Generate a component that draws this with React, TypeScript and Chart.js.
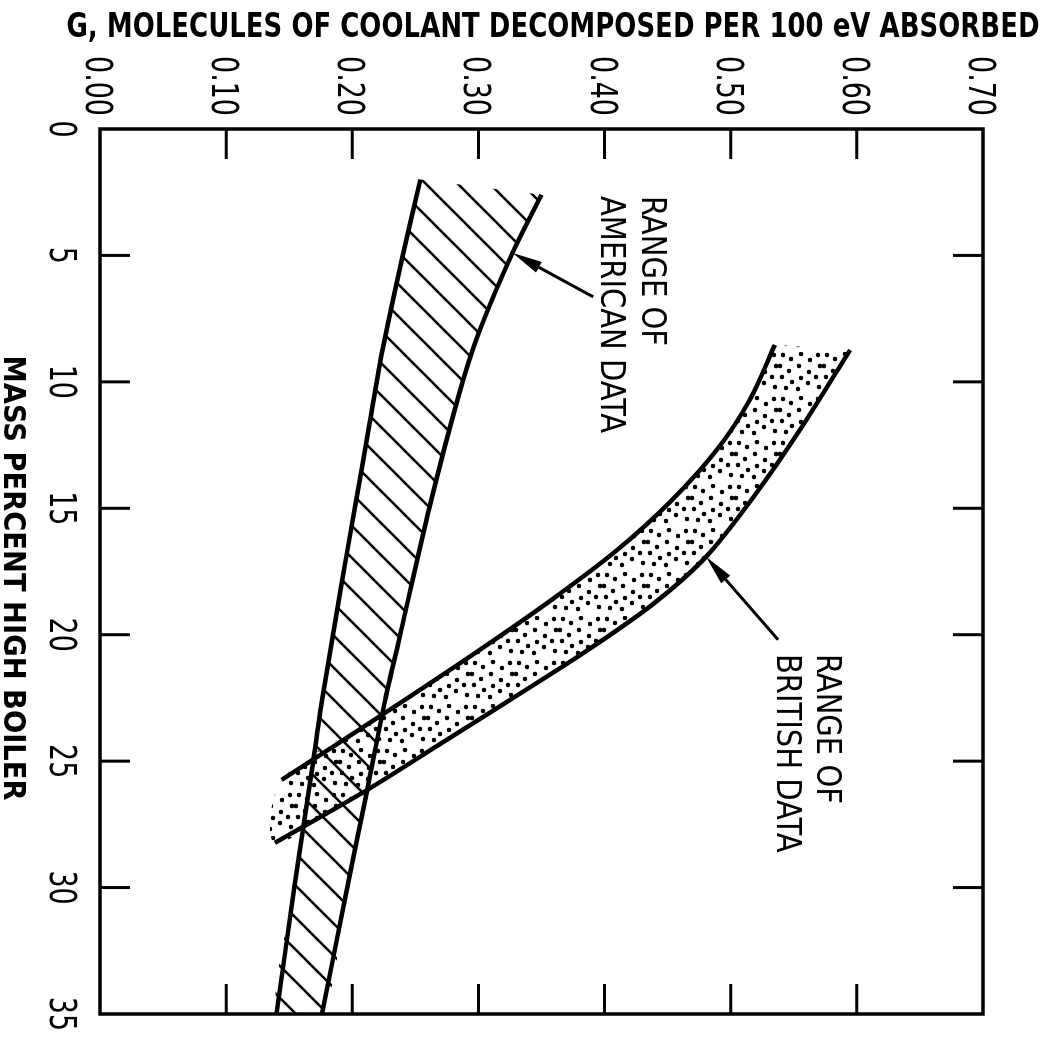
import React, { useEffect, useRef } from "react";
import { Chart, registerables } from "chart.js";

Chart.register(...registerables);

// ---- data (x = mass percent high boiler, y = G value) ----
const americanUpperX = [2.6, 4.9, 8.1, 10.6, 15, 20, 22.6, 26.1, 30, 35];
const americanUpperG = [0.35, 0.327, 0.3, 0.284, 0.261, 0.238, 0.226, 0.212, 0.196, 0.176];
const americanLowerX = [2.0, 5, 8.74, 12, 15, 18, 22.6, 25, 30, 35];
const americanLowerG = [0.254, 0.24, 0.224, 0.2125, 0.202, 0.1915, 0.176, 0.169, 0.154, 0.14];

const britishUpperX = [8.74, 11.9, 14.47, 16.92, 18.82, 20.68, 22.58, 24.4, 26.14, 28.23];
const britishUpperG = [0.5946, 0.5549, 0.5193, 0.4804, 0.4376, 0.3845, 0.325, 0.2672, 0.2117, 0.1387];
const britishLowerX = [8.54, 10.72, 12.69, 14.67, 16.65, 18.62, 20.6, 23.09, 25.74];
const britishLowerG = [0.535, 0.515, 0.489, 0.4535, 0.41, 0.358, 0.301, 0.226, 0.144];

const xTicks = [0, 5, 10, 15, 20, 25, 30, 35];
const gTicks = [0, 0.1, 0.2, 0.3, 0.4, 0.5, 0.6, 0.7];

const xAxisTitle = "MASS PERCENT HIGH BOILER";
const gAxisTitle = "G, MOLECULES OF COOLANT DECOMPOSED PER 100 eV ABSORBED";

// in-plot labels (x = start, g = baseline)
const labelTexts = ["RANGE OF", "AMERICAN DATA", "RANGE OF", "BRITISH DATA"];
const labelX = [2.65, 2.65, 20.76, 20.76];
const labelG = [0.4297, 0.397, 0.5684, 0.5367];

// arrows
const arrowTailX = [6.64, 20.2];
const arrowTailG = [0.391, 0.5375];
const arrowTipX = [4.9, 16.92];
const arrowTipG = [0.327, 0.4804];

const FAMILY = "'DejaVu Sans Condensed', 'DejaVu Sans', sans-serif";

function pts(xs: number[], ys: number[]) {
  return xs.map((x, i) => ({ x, y: ys[i] }));
}
function band(ux: number[], uy: number[], lx: number[], ly: number[]) {
  return [...pts(ux, uy), ...pts(lx, ly).reverse()];
}

function hatchPattern(ctx: CanvasRenderingContext2D) {
  const s = 32;
  const c = document.createElement("canvas");
  c.width = s;
  c.height = s;
  const g = c.getContext("2d")!;
  g.strokeStyle = "#000";
  g.lineWidth = 2.6;
  g.beginPath();
  g.moveTo(-4, s + 4);
  g.lineTo(s + 4, -4);
  g.moveTo(-4, 4);
  g.lineTo(4, -4);
  g.moveTo(s - 4, s + 4);
  g.lineTo(s + 4, s - 4);
  g.stroke();
  return ctx.createPattern(c, "repeat")!;
}

const dotTile = [
  [3, 4], [14, 2], [25, 6], [35, 3], [8, 12], [20, 13], [31, 14], [2, 21],
  [14, 23], [26, 21], [37, 24], [7, 31], [19, 33], [30, 30], [3, 39], [14, 42],
  [25, 40], [36, 36],
];
function dotPattern(ctx: CanvasRenderingContext2D) {
  const s = 44;
  const c = document.createElement("canvas");
  c.width = s;
  c.height = s;
  const g = c.getContext("2d")!;
  g.fillStyle = "#000";
  for (const [x, y] of dotTile) {
    g.beginPath();
    g.arc(x, y, 2.3, 0, Math.PI * 2);
    g.fill();
  }
  return ctx.createPattern(c, "repeat")!;
}

// text helper: condensed drawing (horizontal scale)
function drawText(
  ctx: CanvasRenderingContext2D,
  text: string,
  x: number,
  y: number,
  font: string,
  sx: number,
  align: CanvasTextAlign,
  rot = 0
) {
  ctx.save();
  ctx.translate(x, y);
  if (rot) ctx.rotate(rot);
  ctx.scale(sx, 1);
  ctx.font = font;
  ctx.textAlign = align;
  ctx.textBaseline = "alphabetic";
  ctx.fillText(text, 0, 0);
  ctx.restore();
}
function fitScale(ctx: CanvasRenderingContext2D, text: string, font: string, width: number) {
  ctx.save();
  ctx.font = font;
  const w = ctx.measureText(text).width;
  ctx.restore();
  return width / w;
}

const framePlugin = {
  id: "frame",
  afterDatasetsDraw(chart: any) {
    const { ctx, chartArea: a, scales } = chart;
    const x = scales.x;
    const y = scales.y;
    ctx.save();
    ctx.strokeStyle = "#000";
    ctx.fillStyle = "#000";
    ctx.lineWidth = 3.5;
    ctx.strokeRect(a.left, a.top, a.right - a.left, a.bottom - a.top);
    ctx.lineWidth = 3;
    ctx.beginPath();
    for (const v of xTicks) {
      if (v <= x.min || v >= x.max) continue;
      const p = x.getPixelForValue(v);
      ctx.moveTo(p, a.top);
      ctx.lineTo(p, a.top + 30);
      ctx.moveTo(p, a.bottom);
      ctx.lineTo(p, a.bottom - 30);
    }
    for (const v of gTicks) {
      if (v <= y.min + 1e-9 || v >= y.max - 1e-9) continue;
      const p = y.getPixelForValue(v);
      ctx.moveTo(a.left, p);
      ctx.lineTo(a.left + 30, p);
      ctx.moveTo(a.right, p);
      ctx.lineTo(a.right - 30, p);
    }
    ctx.stroke();

    // arrows
    for (let i = 0; i < arrowTipX.length; i++) {
      const tx = x.getPixelForValue(arrowTailX[i]);
      const ty = y.getPixelForValue(arrowTailG[i]);
      const hx = x.getPixelForValue(arrowTipX[i]);
      const hy = y.getPixelForValue(arrowTipG[i]);
      const ang = Math.atan2(hy - ty, hx - tx);
      const L = 30;
      const W = 6;
      const bx = hx - L * Math.cos(ang);
      const by = hy - L * Math.sin(ang);
      ctx.lineWidth = 3;
      ctx.beginPath();
      ctx.moveTo(tx, ty);
      ctx.lineTo(bx, by);
      ctx.stroke();
      ctx.beginPath();
      ctx.moveTo(hx, hy);
      ctx.lineTo(bx + W * Math.sin(ang), by - W * Math.cos(ang));
      ctx.lineTo(bx - W * Math.sin(ang), by + W * Math.cos(ang));
      ctx.closePath();
      ctx.fill();
    }

    // in-plot labels
    const labelFont = `34px ${FAMILY}`;
    const lsx = fitScale(ctx, "RANGE OF", labelFont, 150);
    for (let i = 0; i < labelTexts.length; i++) {
      drawText(ctx, labelTexts[i], x.getPixelForValue(labelX[i]), y.getPixelForValue(labelG[i]), labelFont, lsx, "left");
    }

    // tick labels (values from the scales)
    const tickFont = `38px ${FAMILY}`;
    const tsx = fitScale(ctx, "0.00", tickFont, 60);
    for (const v of xTicks) {
      drawText(ctx, String(v), x.getPixelForValue(v), 992, tickFont, tsx, "center");
    }
    for (const v of gTicks) {
      drawText(ctx, v.toFixed(2), a.left - 13, y.getPixelForValue(v) + 14, tickFont, tsx, "right");
    }

    // axis titles
    const gFont = `bold 33px ${FAMILY}`;
    const gsx = fitScale(ctx, gAxisTitle, gFont, 973);
    drawText(ctx, gAxisTitle, 37, 489, gFont, gsx, "center", -Math.PI / 2);
    const xFont = `bold 31px ${FAMILY}`;
    const xsx = fitScale(ctx, xAxisTitle, xFont, 445);
    drawText(ctx, xAxisTitle, 578, 1038, xFont, xsx, "center");
    ctx.restore();
  },
};

export default function App() {
  const ref = useRef<HTMLCanvasElement | null>(null);
  useEffect(() => {
    const canvas = ref.current!;
    const ctx = canvas.getContext("2d")!;
    const lineStyle = {
      showLine: true,
      fill: false,
      borderColor: "#000",
      borderWidth: 4.5,
      pointRadius: 0,
      tension: 0.3,
    };
    const chart = new Chart(canvas, {
      type: "scatter",
      data: {
        datasets: [
          {
            data: band(americanUpperX, americanUpperG, americanLowerX, americanLowerG),
            showLine: true,
            fill: "shape",
            backgroundColor: hatchPattern(ctx),
            borderColor: "rgba(0,0,0,0)",
            borderWidth: 1,
            pointRadius: 0,
            tension: 0.3,
          } as any,
          {
            data: band(britishUpperX, britishUpperG, britishLowerX, britishLowerG),
            showLine: true,
            fill: "shape",
            backgroundColor: dotPattern(ctx),
            borderColor: "rgba(0,0,0,0)",
            borderWidth: 1,
            pointRadius: 0,
            tension: 0.3,
          } as any,
          { data: pts(americanUpperX, americanUpperG), ...lineStyle } as any,
          { data: pts(americanLowerX, americanLowerG), ...lineStyle } as any,
          { data: pts(britishUpperX, britishUpperG), ...lineStyle } as any,
          { data: pts(britishLowerX, britishLowerG), ...lineStyle } as any,
        ],
      },
      options: {
        responsive: false,
        animation: false,
        devicePixelRatio: 1,
        layout: { padding: { top: 59, right: 28, left: 0, bottom: 0 } },
        plugins: { legend: { display: false }, tooltip: { enabled: false } },
        scales: {
          x: {
            type: "linear",
            position: "bottom",
            min: 0,
            max: 35,
            afterBuildTicks: (s: any) => {
              s.ticks = xTicks.map((value) => ({ value }));
            },
            afterFit: (s: any) => {
              s.height = 100;
            },
            grid: { display: false },
            border: { display: false },
            ticks: { display: false },
            title: { display: false, text: xAxisTitle },
          },
          y: {
            type: "linear",
            position: "left",
            min: 0,
            max: 0.7,
            afterBuildTicks: (s: any) => {
              s.ticks = gTicks.map((value) => ({ value }));
            },
            afterFit: (s: any) => {
              s.width = 129;
            },
            grid: { display: false },
            border: { display: false },
            ticks: { display: false },
            title: { display: false, text: gAxisTitle },
          },
        },
      } as any,
      plugins: [framePlugin],
    });
    return () => chart.destroy();
  }, []);

  return (
    <div
      style={{
        position: "absolute",
        left: 0,
        top: 0,
        width: 1042,
        height: 1042,
        background: "#fff",
        transform: "rotate(90deg)",
        transformOrigin: "50% 50%",
      }}
    >
      <canvas ref={ref} width={1042} height={1042} style={{ display: "block", width: 1042, height: 1042 }} />
    </div>
  );
}
